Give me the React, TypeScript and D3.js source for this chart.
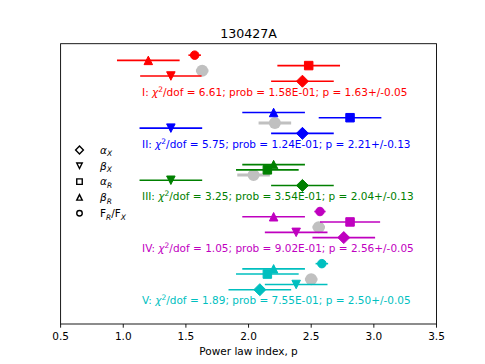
import React from 'react';
import * as d3 from 'd3';

const W = 485;
const H = 364;

const xTicks = [0.5, 1.0, 1.5, 2.0, 2.5, 3.0, 3.5];
const groupNames = ['I', 'II', 'III', 'IV', 'V'];
const groupColors = ['#ff0000', '#0000ff', '#008000', '#bf00bf', '#00bfbf'];
const groupY = [5, 4, 3, 2, 1];
const chi2 = ['6.61', '5.75', '3.25', '1.05', '1.89'];
const probs = ['1.58E-01', '1.24E-01', '3.54E-01', '9.02E-01', '7.55E-01'];
const pFit = [1.63, 2.21, 2.04, 2.56, 2.5];
const pErr = [0.05, 0.13, 0.13, 0.05, 0.05];

const alphaX = [2.43, 2.43, 2.43, 2.76, 2.09];
const alphaXErr = [0.25, 0.25, 0.25, 0.25, 0.25];
const betaX = [1.38, 1.38, 1.38, 2.38, 2.38];
const betaXErr = [0.245, 0.25, 0.25, 0.25, 0.25];
const alphaR = [2.48, 2.81, 2.15, 2.81, 2.15];
const alphaRErr = [0.25, 0.25, 0.25, 0.24, 0.25];
const betaR = [1.2, 2.2, 2.2, 2.2, 2.2];
const betaRErr = [0.25, 0.25, 0.25, 0.25, 0.25];
const ratio: (number | null)[] = [1.57, null, null, 2.57, 2.585];
const ratioErr: (number | null)[] = [0.05, null, null, 0.045, 0.05];

// vertical offsets of each series within a group (data units)
const offAlphaX = 0.28;
const offBetaX = 0.38;
const offP = 0.48;
const offAlphaR = 0.58;
const offBetaR = 0.68;
const offRatio = 0.78;
const textX = 1.15;

const M = { left: 60.6, right: 436.5, top: 43.7, bottom: 324 };

type Shape = 'D' | 'v' | 's' | '^' | 'o';

function markerPath(shape: Shape, cx: number, cy: number, ms: number): string {
  const h = ms / 2;
  const p = d3.path();
  if (shape === 'o') {
    p.arc(cx, cy, h, 0, Math.PI * 2);
    p.closePath();
  } else if (shape === 's') {
    p.rect(cx - h, cy - h, ms, ms);
  } else if (shape === '^') {
    p.moveTo(cx, cy - h);
    p.lineTo(cx + h, cy + h);
    p.lineTo(cx - h, cy + h);
    p.closePath();
  } else if (shape === 'v') {
    p.moveTo(cx, cy + h);
    p.lineTo(cx + h, cy - h);
    p.lineTo(cx - h, cy - h);
    p.closePath();
  } else {
    const d = ms * Math.SQRT1_2;
    p.moveTo(cx, cy - d);
    p.lineTo(cx + d, cy);
    p.lineTo(cx, cy + d);
    p.lineTo(cx - d, cy);
    p.closePath();
  }
  return p.toString();
}

const legendItems: { shape: Shape; label: React.ReactNode }[] = [
  { shape: 'D', label: (<><tspan fontStyle="italic">α</tspan><tspan fontStyle="italic" fontSize="7.5" dy="2.5">X</tspan></>) },
  { shape: 'v', label: (<><tspan fontStyle="italic">β</tspan><tspan fontStyle="italic" fontSize="7.5" dy="2.5">X</tspan></>) },
  { shape: 's', label: (<><tspan fontStyle="italic">α</tspan><tspan fontStyle="italic" fontSize="7.5" dy="2.5">R</tspan></>) },
  { shape: '^', label: (<><tspan fontStyle="italic">β</tspan><tspan fontStyle="italic" fontSize="7.5" dy="2.5">R</tspan></>) },
  { shape: 'o', label: (<><tspan>F</tspan><tspan fontStyle="italic" fontSize="7.5" dy="2.5">R</tspan><tspan dy="-2.5">/F</tspan><tspan fontStyle="italic" fontSize="7.5" dy="2.5">X</tspan></>) },
];

export default function App() {
  const x = d3.scaleLinear().domain([0.5, 3.5]).range([M.left, M.right]);
  const y = d3.scaleLinear().domain([0.622, 6.0]).range([M.bottom, M.top]);
  const font = 'DejaVu Sans, sans-serif';
  const ms = 8.5;

  const series = [
    { vals: alphaX, errs: alphaXErr, off: offAlphaX, shape: 'D' as Shape },
    { vals: betaX, errs: betaXErr, off: offBetaX, shape: 'v' as Shape },
    { vals: alphaR, errs: alphaRErr, off: offAlphaR, shape: 's' as Shape },
    { vals: betaR, errs: betaRErr, off: offBetaR, shape: '^' as Shape },
    { vals: ratio, errs: ratioErr, off: offRatio, shape: 'o' as Shape },
  ];

  return (
    <svg width={W} height={H} style={{ position: 'absolute', left: 0, top: 0, background: '#fff' }} fontFamily={font}>
      <rect x={0} y={0} width={W} height={H} fill="#fff" />
      {groupNames.map((g, gi) => {
        const col = groupColors[gi];
        const gy = groupY[gi];
        return (
          <g key={g}>
            {/* fitted p (gray) */}
            <line x1={x(pFit[gi] - pErr[gi])} x2={x(pFit[gi] + pErr[gi])} y1={y(gy + offP)} y2={y(gy + offP)} stroke="#c0c0c0" strokeWidth={3} />
            <path d={markerPath('o', x(pFit[gi]), y(gy + offP), 12)} fill="#c0c0c0" />
            {series.map((s, si) => {
              const v = s.vals[gi];
              const e = s.errs[gi];
              if (v == null || e == null) return null;
              const yy = y(gy + s.off);
              return (
                <g key={si}>
                  <line x1={x(v - e)} x2={x(v + e)} y1={yy} y2={yy} stroke={col} strokeWidth={1.6} />
                  <path d={markerPath(s.shape, x(v), yy, ms)} fill={col} stroke={col} strokeWidth={1} />
                </g>
              );
            })}
            <text x={x(textX)} y={y(gy)} fill={col} fontSize={10.5}>
              {`${g}: `}
              <tspan fontStyle="italic">χ</tspan>
              <tspan fontSize="7.5" dy="-4">2</tspan>
              <tspan dy="4">{`/dof = ${chi2[gi]}; prob = ${probs[gi]}; p = ${pFit[gi].toFixed(2)}+/-${pErr[gi].toFixed(2)}`}</tspan>
            </text>
          </g>
        );
      })}

      {/* legend */}
      {legendItems.map((it, i) => {
        const ly = 150 + i * 15.8;
        return (
          <g key={i}>
            <path d={markerPath(it.shape, 79.5, ly, 5.5)} fill="none" stroke="#000" strokeWidth={1.4} />
            <text x={100} y={ly + 3.8} fontSize={10.5} fill="#000">{it.label}</text>
          </g>
        );
      })}

      {/* frame */}
      <rect x={M.left} y={M.top} width={M.right - M.left} height={M.bottom - M.top} fill="none" stroke="#000" strokeWidth={0.9} />
      {/* x axis ticks */}
      {xTicks.map((t) => (
        <g key={t}>
          <line x1={x(t)} x2={x(t)} y1={M.bottom} y2={M.bottom + 3.7} stroke="#000" strokeWidth={0.9} />
          <text x={x(t)} y={339.5} textAnchor="middle" fontSize={10.5} fill="#000">{t.toFixed(1)}</text>
        </g>
      ))}
      <text x={(M.left + M.right) / 2} y={355} textAnchor="middle" fontSize={10.5} fill="#000">Power law index, p</text>
      <text x={(M.left + M.right) / 2} y={37.7} textAnchor="middle" fontSize={12.6} fill="#000">130427A</text>
    </svg>
  );
}
